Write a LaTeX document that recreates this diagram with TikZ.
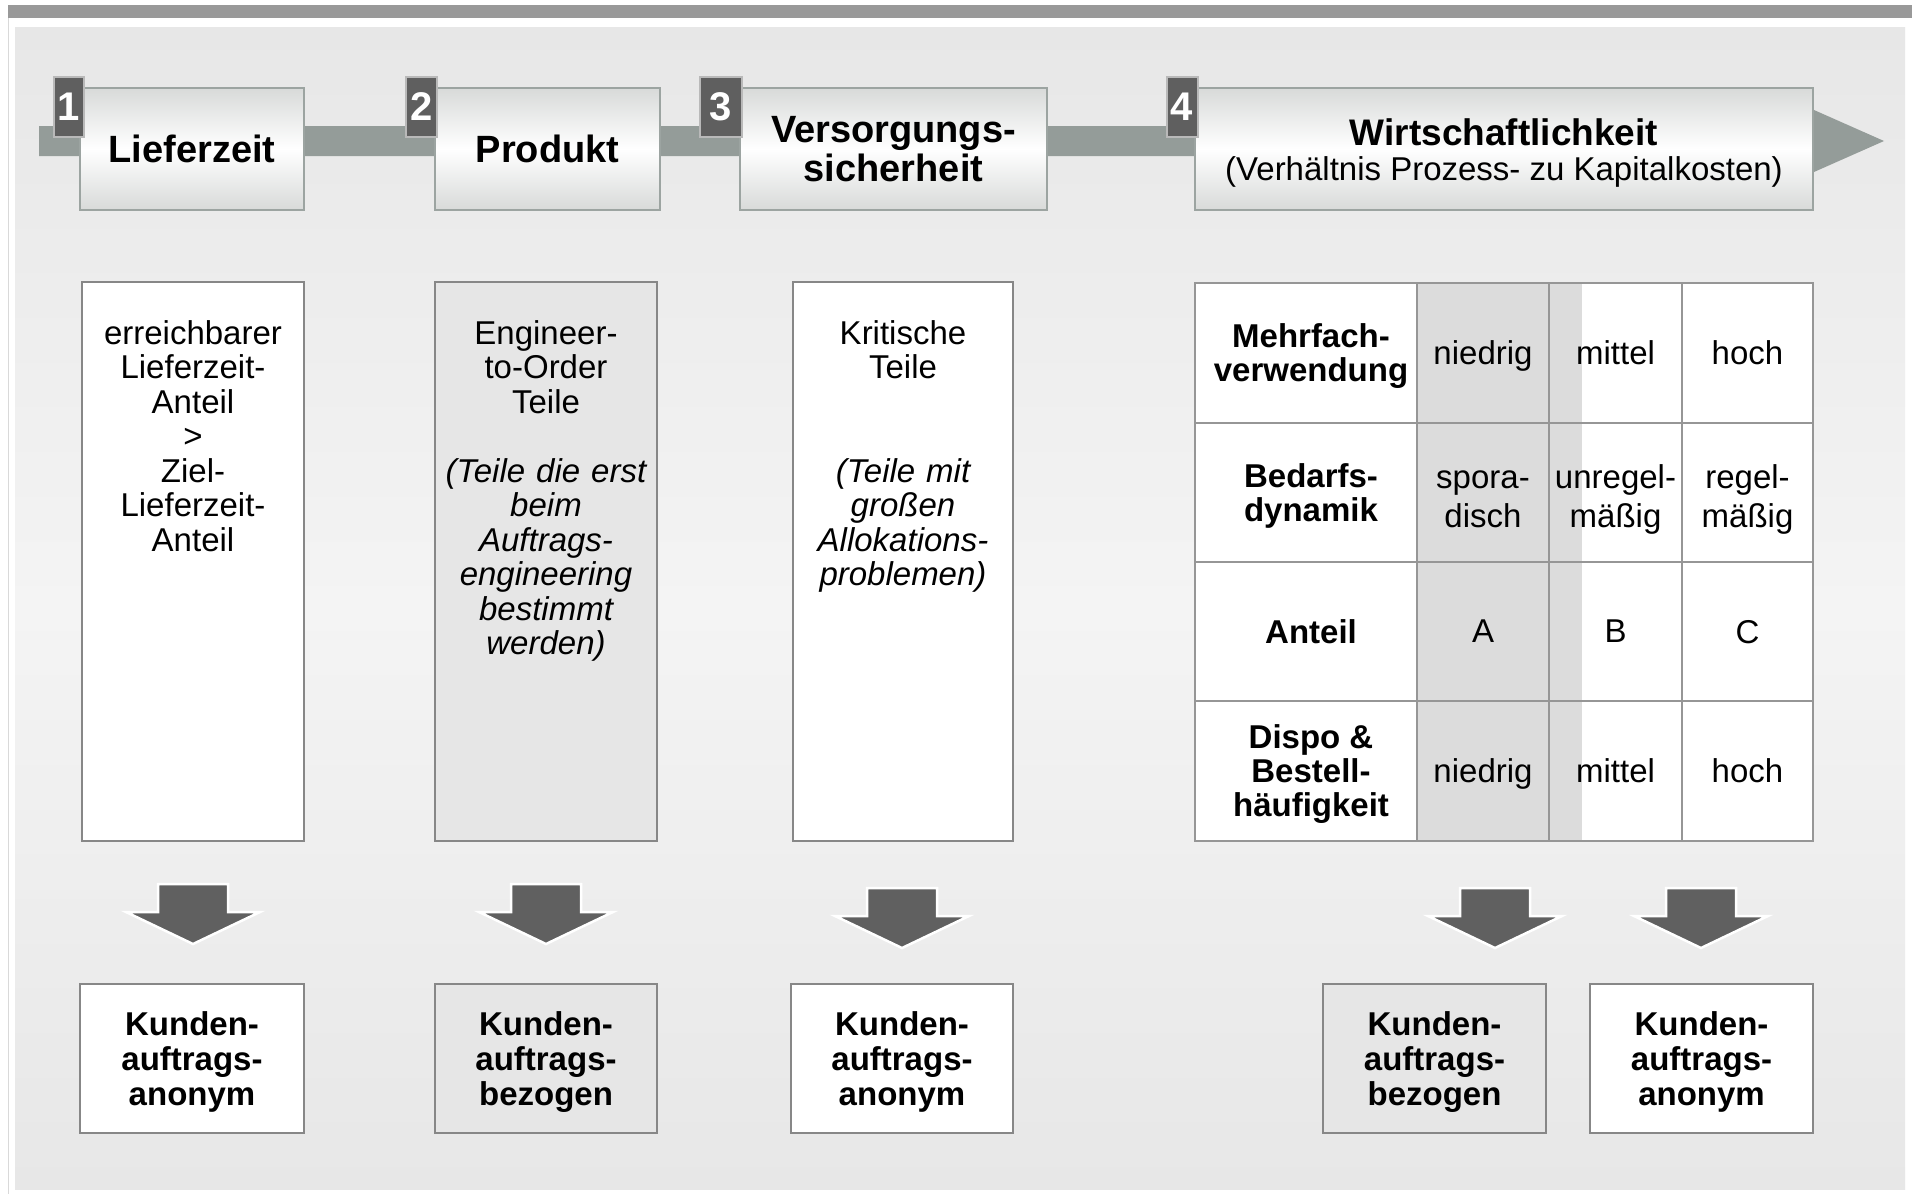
\documentclass[tikz,border=0pt]{standalone}
\usepackage{fontspec}
\setmainfont{Liberation Sans}
\usetikzlibrary{shadings}

\definecolor{bargray}{RGB}{153,153,153}
\definecolor{bandgray}{RGB}{148,156,153}
\definecolor{panelA}{RGB}{231,231,231}
\definecolor{panelB}{RGB}{244,244,244}
\definecolor{hdrshade}{RGB}{216,218,217}
\definecolor{hdredge}{RGB}{156,164,161}
\definecolor{tagfill}{RGB}{95,95,95}
\definecolor{tagedge}{RGB}{185,185,185}
\definecolor{boxedge}{RGB}{135,135,135}
\definecolor{boxgray}{RGB}{230,230,230}
\definecolor{cellgray}{RGB}{220,220,220}
\definecolor{gridgray}{RGB}{150,150,150}
\definecolor{arrowgray}{RGB}{96,96,96}

\tikzset{
  hbox/.style={draw=hdredge, line width=2pt, top color=hdrshade, bottom color=hdrshade,
    middle color=white, inner sep=0pt},
  hfont/.style={font=\fontsize{38}{39}\selectfont\bfseries, align=center},
  tagbox/.style={draw=tagedge, line width=2pt, fill=tagfill, text=white, inner sep=0pt,
    minimum height=60pt, font=\fontsize{40}{40}\selectfont\bfseries},
  cbox/.style={draw=boxedge, line width=2pt, fill=white, inner sep=0pt},
  cgray/.style={cbox, fill=boxgray},
  ctext/.style={inner sep=0pt, align=center, text width=214pt,
    font=\fontsize{33}{34.5}\selectfont},
  cell/.style={draw=gridgray, line width=2pt, inner sep=0pt, align=center},
  cellfont/.style={font=\fontsize{33}{34}\selectfont},
  kbox/.style={draw=boxedge, line width=2pt, fill=white, inner sep=0pt, align=center,
    minimum height=149pt, text depth=0pt, font=\fontsize{33}{35}\selectfont\bfseries},
  kgray/.style={kbox, fill=boxgray},
  downarrow/.pic={
    \fill[arrowgray, draw=white, line width=2.5pt]
      (-35,0) -- (35,0) -- (35,28) -- (67,28) -- (0,60) -- (-67,28) -- (-35,28) -- cycle;
  }
}

\begin{document}
\begin{tikzpicture}[x=1pt, y=-1pt]
\useasboundingbox (0,0) rectangle (1912,1194);
\fill[white] (0,0) rectangle (1912,1194);

% top rule and background panel
\fill[bargray] (8,5) rectangle (1912,18);
\draw[gray!30, line width=1pt] (8,18) -- (8,1194);
\shade[top color=panelA, bottom color=panelA, middle color=panelB] (15,27) rectangle (1905,1189);

% process band with arrow head
\fill[bandgray] (39,126) -- (1814,126) -- (1814,110) -- (1884,141) -- (1814,172)
  -- (1814,156) -- (39,156) -- cycle;

% header boxes
\node[hbox, minimum width=224pt, minimum height=122pt] (h1) at (192,149) {};
\node[hbox, minimum width=225pt, minimum height=122pt] (h2) at (547.5,149) {};
\node[hbox, minimum width=307pt, minimum height=122pt] (h3) at (893.5,149) {};
\node[hbox, minimum width=618pt, minimum height=122pt] (h4) at (1504,149) {};
\node[hfont] (h1t) at (h1) {Lieferzeit};
\node[hfont] (h2t) at (h2) {Produkt};
\node[hfont] (h3t) at (893.5,149) {Versorgungs-\\sicherheit};
\node[font=\fontsize{37}{37}\selectfont\bfseries] (h4t) at (1504,132) {Wirtschaftlichkeit};
\node[font=\fontsize{33}{33}\selectfont] (h4s) at (1504,172) {(Verhältnis Prozess- zu Kapitalkosten)};

% number tags
\node[tagbox, minimum width=30pt] (t1) at (68.5,107) {1};
\node[tagbox, minimum width=31pt] (t2) at (421.5,107) {2};
\node[tagbox, minimum width=42pt] (t3) at (721,107) {3};
\node[tagbox, minimum width=31pt] (t4) at (1182,107) {4};

% criteria boxes
\node[cbox, minimum width=222pt, minimum height=559pt] (c1) at (193,561.5) {};
\node[cgray, minimum width=222pt, minimum height=559pt] (c2) at (546,561.5) {};
\node[cbox, minimum width=220pt, minimum height=559pt] (c3) at (903,561.5) {};
\node[ctext, anchor=north] (c1t) at (193,320)
  {erreichbarer\\Lieferzeit-\\Anteil\\>\\Ziel-\\Lieferzeit-\\Anteil};
\node[ctext, anchor=north] (c2t) at (546,320)
  {Engineer-\\to-Order\\Teile\\[34.5pt]\itshape (Teile die erst\\\itshape beim\\\itshape Auftrags-\\\itshape engineering\\\itshape bestimmt\\\itshape werden)};
\node[ctext, anchor=north] (c3t) at (903,320)
  {Kritische\\Teile\\[69pt]\itshape (Teile mit\\\itshape großen\\\itshape Allokations-\\\itshape problemen)};

% classification table: backgrounds
\fill[white] (1195,283) rectangle (1813,841);
\fill[cellgray] (1417,283) rectangle (1549,841);
\fill[cellgray] (1549,283) rectangle (1582,841);

% classification table: cells
\foreach \r/\yc/\hh in {1/353/140, 2/492.5/139, 3/631.5/139, 4/771/140} {
  \node[cell, minimum width=222pt, minimum height=\hh pt] (m\r a) at (1306,\yc) {};
  \node[cell, minimum width=132pt, minimum height=\hh pt] (m\r b) at (1483,\yc) {};
  \node[cell, minimum width=133pt, minimum height=\hh pt] (m\r c) at (1615.5,\yc) {};
  \node[cell, minimum width=131pt, minimum height=\hh pt] (m\r d) at (1747.5,\yc) {};
}
\begin{scope}[every node/.style={cellfont, align=center, inner sep=0pt, text depth=0pt},
  rowhead/.style={font=\fontsize{33}{34}\selectfont\bfseries, xshift=5pt},
  wide/.style={font=\fontsize{33}{39}\selectfont, text height=69pt}]
  \node[rowhead] (l1a) at (m1a) {Mehrfach-\\verwendung};
  \node (l1b) at (m1b) {niedrig};
  \node (l1c) at (m1c) {mittel};
  \node (l1d) at (m1d) {hoch};
  \node[rowhead] (l2a) at (m2a) {Bedarfs-\\dynamik};
  \node[wide] (l2b) at (m2b) {spora-\\disch};
  \node[wide] (l2c) at (m2c) {unregel-\\mäßig};
  \node[wide] (l2d) at (m2d) {regel-\\mäßig};
  \node[rowhead] (l3a) at (m3a) {Anteil};
  \node (l3b) at (m3b) {A};
  \node (l3c) at (m3c) {B};
  \node (l3d) at (m3d) {C};
  \node[rowhead] (l4a) at (m4a) {Dispo \&\\Bestell-\\häufigkeit};
  \node (l4b) at (m4b) {niedrig};
  \node (l4c) at (m4c) {mittel};
  \node (l4d) at (m4d) {hoch};
\end{scope}

% block arrows
\pic at (193,884) {downarrow};
\pic at (546,884) {downarrow};
\pic at (902,888) {downarrow};
\pic at (1495,888) {downarrow};
\pic at (1701,888) {downarrow};

% result boxes
\node[kbox, minimum width=224pt] (k1) at (192,1058.5) {Kunden-\\auftrags-\\anonym};
\node[kgray, minimum width=222pt] (k2) at (546,1058.5) {Kunden-\\auftrags-\\bezogen};
\node[kbox, minimum width=222pt] (k3) at (902,1058.5) {Kunden-\\auftrags-\\anonym};
\node[kgray, minimum width=223pt] (k4) at (1434.5,1058.5) {Kunden-\\auftrags-\\bezogen};
\node[kbox, minimum width=223pt] (k5) at (1701.5,1058.5) {Kunden-\\auftrags-\\anonym};
\end{tikzpicture}
\end{document}
